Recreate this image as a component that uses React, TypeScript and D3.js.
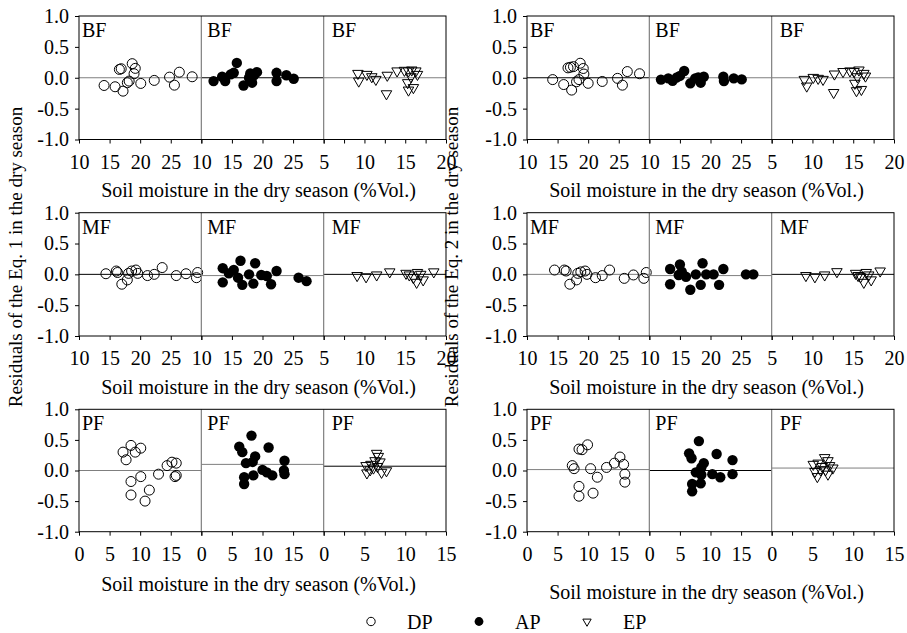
import { useEffect, useRef } from 'react'
import * as d3 from 'd3'

type Pt = [number, number]

const groups = ['DP', 'AP', 'EP']
const forests = ['BF', 'MF', 'PF']
const yTicks = [-1, -0.5, 0, 0.5, 1]

// x domains / tick labels per sub-panel (DP, AP, EP)
const xDomainBFMF: Pt[] = [[10, 30], [10, 30], [5, 20]]
const xDomainPF: Pt[] = [[0, 20], [0, 20], [0, 15]]
const xTicksBFMF = [[10, 15, 20, 25, 30], [10, 15, 20, 25, 30], [5, 10, 15, 20]]
const xTicksPF = [[0, 5, 10, 15, 20], [0, 5, 10, 15, 20], [0, 5, 10, 15]]
const xMinorBFMF = [7.5, 12.5, 17.5]
const xMinorPF = [2.5, 7.5, 12.5]

// Eq. 1 residuals  [soil moisture, residual]
const eq1BF_DP: Pt[] = [[14.1, -0.125], [15.9, -0.146], [17.2, -0.217], [16.6, 0.135], [16.9, 0.146], [18.7, 0.228], [19.2, 0.152], [19.0, 0.065], [18.2, -0.054], [17.9, -0.08], [20.1, -0.092], [22.3, -0.043], [24.8, 0.01], [25.6, -0.12], [26.4, 0.09], [28.5, 0.016]]
const eq1BF_AP: Pt[] = [[12.0, -0.054], [13.4, 0.016], [13.9, -0.054], [14.8, 0.054], [15.8, 0.24], [15.3, 0.08], [16.9, -0.125], [17.8, 0], [18.0, 0.07], [18.3, -0.08], [18.6, 0.04], [19.1, 0.09], [22.3, 0.08], [22.3, -0.054], [23.9, 0.04], [25.1, -0.016]]
const eq1BF_EP: Pt[] = [[9.2, 0.07], [9.3, -0.054], [10.3, 0.054], [10.9, 0.016], [11.4, -0.027], [12.8, 0.04], [12.7, -0.26], [14.0, 0.11], [14.9, 0.12], [15.4, 0.11], [15.8, 0.125], [15.7, 0.016], [16.3, 0.11], [15.3, -0.08], [15.4, -0.2], [16.0, -0.16], [16.5, 0.054]]
const eq1MF_DP: Pt[] = [[14.4, 0.01], [16.1, 0.054], [16.3, 0.03], [17.0, -0.16], [17.9, -0.09], [18.1, 0.016], [18.6, 0.054], [19.3, 0.07], [19.6, 0.016], [21.2, -0.02], [22.3, 0], [23.6, 0.11], [25.9, -0.02], [27.5, 0.01], [29.4, 0.03], [29.2, -0.054]]
const eq1MF_AP: Pt[] = [[13.5, 0.1], [13.5, -0.13], [14.5, 0.016], [15.3, 0.07], [16.4, 0.22], [16.0, -0.054], [16.7, -0.17], [17.8, 0], [18.5, -0.15], [18.8, 0.18], [19.8, -0.01], [20.7, -0.027], [21.4, -0.16], [22.3, 0.054], [25.9, -0.054], [27.2, -0.11]]
const eq1MF_EP: Pt[] = [[9.1, -0.02], [10.2, -0.04], [11.5, -0.01], [13.1, 0.04], [15.1, 0.016], [15.5, -0.01], [16.0, -0.054], [16.5, 0.03], [16.9, 0], [16.4, -0.13], [17.2, -0.09], [18.5, 0.04]]
const eq1PF_DP: Pt[] = [[7.2, 0.3], [7.7, 0.175], [8.5, 0.41], [9.2, 0.3], [10.1, 0.365], [8.5, -0.18], [10.1, -0.1], [11.5, -0.32], [8.5, -0.4], [10.8, -0.5], [13.0, -0.06], [14.4, 0.08], [15.2, 0.136], [15.9, 0.12], [15.9, -0.08], [15.7, -0.1]]
const eq1PF_AP: Pt[] = [[6.2, 0.39], [6.7, 0.3], [8.2, 0.57], [11.0, 0.375], [8.8, 0.23], [8.4, 0.14], [7.3, 0.12], [13.6, 0.16], [13.6, -0.06], [13.5, 0.0], [7.0, -0.11], [7.0, -0.22], [8.5, -0.08], [10.0, 0.01], [10.7, -0.03], [11.6, -0.08]]
const eq1PF_EP: Pt[] = [[5.2, 0.08], [5.8, 0.1], [6.3, 0.16], [6.7, 0.23], [6.5, 0.28], [6.9, 0.14], [6.1, 0.04], [5.3, -0.04], [7.1, -0.03], [7.7, -0.005], [5.7, 0.01], [6.6, 0.065]]

// Eq. 2 residuals
const eq2BF_DP: Pt[] = [[14.2, -0.03], [16.0, -0.11], [17.3, -0.2], [16.7, 0.16], [17.1, 0.17], [17.6, 0.18], [18.7, 0.235], [19.2, 0.15], [18.1, -0.065], [18.5, -0.03], [19.3, 0.06], [20.0, -0.09], [22.3, -0.06], [24.8, -0.01], [25.6, -0.12], [26.4, 0.1], [28.4, 0.065]]
const eq2BF_AP: Pt[] = [[11.9, -0.03], [13.1, -0.01], [13.8, -0.05], [14.5, 0.005], [15.7, 0.11], [15.0, 0.03], [16.7, -0.09], [17.5, -0.01], [18.0, 0.005], [18.4, -0.08], [18.9, 0.016], [22.1, 0.016], [22.2, -0.054], [23.8, -0.01], [25.1, -0.027]]
const eq2BF_EP: Pt[] = [[9.0, -0.027], [9.3, -0.135], [10.1, 0.005], [10.7, -0.01], [11.3, -0.027], [12.7, 0.06], [12.6, -0.24], [13.75, 0.1], [14.6, 0.11], [15.1, 0.1], [15.7, 0.125], [15.5, 0.016], [16.3, 0.07], [15.2, -0.09], [15.4, -0.21], [16.0, -0.19], [16.5, 0.027]]
const eq2MF_DP: Pt[] = [[14.5, 0.07], [16.1, 0.07], [16.4, 0.054], [17.0, -0.16], [18.1, -0.09], [18.3, 0.016], [18.8, 0.04], [19.5, 0.054], [19.8, 0], [21.2, -0.054], [22.3, -0.02], [23.5, 0.07], [25.9, -0.065], [27.4, -0.01], [29.5, 0.03], [29.1, -0.065]]
const eq2MF_AP: Pt[] = [[13.4, 0.086], [13.4, -0.16], [14.8, -0.01], [15.0, 0.16], [15.3, 0.043], [16.0, -0.04], [16.7, -0.25], [17.6, 0], [18.4, -0.17], [18.7, 0.18], [19.3, 0], [20.5, 0], [21.4, -0.17], [22.1, 0.086], [25.8, 0], [27.0, 0]]
const eq2MF_EP: Pt[] = [[9.2, -0.02], [10.3, -0.04], [11.5, -0.01], [13.0, 0.043], [15.3, 0.016], [15.6, -0.02], [15.9, -0.04], [16.6, 0.03], [16.9, -0.01], [16.3, -0.13], [17.2, -0.09], [18.3, 0.054]]
const eq2PF_DP: Pt[] = [[8.5, 0.35], [9.0, 0.34], [9.9, 0.42], [7.4, 0.08], [7.7, 0.03], [10.4, 0.03], [11.5, -0.11], [13.0, 0.05], [14.3, 0.12], [15.2, 0.22], [15.8, 0.1], [16.0, -0.06], [16.0, -0.19], [8.5, -0.26], [10.8, -0.37], [8.5, -0.42]]
const eq2PF_AP: Pt[] = [[8.1, 0.48], [6.5, 0.28], [6.9, 0.2], [11.0, 0.27], [13.6, 0.17], [8.9, 0.12], [8.5, 0.05], [13.6, -0.06], [10.3, -0.06], [11.6, -0.11], [8.5, -0.07], [8.4, -0.21], [7.0, -0.22], [7.0, -0.34], [7.6, -0.03]]
const eq2PF_EP: Pt[] = [[5.1, 0.1], [5.7, 0.12], [6.5, 0.21], [6.9, 0.16], [6.2, 0.065], [5.3, -0.016], [5.6, -0.1], [6.9, -0.06], [7.5, 0.04], [7.1, 0.08], [6.0, 0.01], [6.6, 0.01]]

// mean residual lines per forest row, per group
const eq1Lines = [[0, 0, 0], [0, -0.02, 0], [0, 0.1, 0.07]]
const eq2Lines = [[0, 0, 0], [0, -0.02, 0], [0.015, 0, 0.04]]

const GREY = '#7f7f7f'
const eq1Tones = [[GREY, '#000', GREY], ['#000', GREY, '#000'], [GREY, GREY, '#000']]
const eq2Tones = [['#000', GREY, GREY], [GREY, GREY, '#000'], [GREY, '#000', GREY]]

const FONT = '"Liberation Serif", "Times New Roman", serif'
const xTitle = 'Soil moisture in the dry season (%Vol.)'

export default function App() {
  const ref = useRef<SVGSVGElement>(null)

  useEffect(() => {
    if (!ref.current) return
    const svg = d3.select(ref.current)
    svg.selectAll('*').remove()

    const panels = [
      { x0: 79, x1: 446, title: 'Residuals of the Eq. 1 in the dry season', tX: 22,
        sets: [[eq1BF_DP, eq1BF_AP, eq1BF_EP], [eq1MF_DP, eq1MF_AP, eq1MF_EP], [eq1PF_DP, eq1PF_AP, eq1PF_EP]],
        lines: eq1Lines, tones: eq1Tones, xtY: [197, 394, 591] },
      { x0: 527, x1: 894, title: 'Residuals of the Eq. 2 in the dry season', tX: 458,
        sets: [[eq2BF_DP, eq2BF_AP, eq2BF_EP], [eq2MF_DP, eq2MF_AP, eq2MF_EP], [eq2PF_DP, eq2PF_AP, eq2PF_EP]],
        lines: eq2Lines, tones: eq2Tones, xtY: [197, 394, 599] },
    ]
    const bands = [[16, 139.5], [212.7, 336], [409.3, 531.7]]
    const labelDx = [3, 6, 8]

    const tri = d3.symbol(d3.symbolTriangle, 48)
    const triSmall = d3.symbol(d3.symbolTriangle, 30)

    const styleAxis = (g: d3.Selection<SVGGElement, unknown, null, undefined>) => {
      g.attr('font-family', FONT).attr('font-size', 20)
      g.selectAll('text').attr('fill', '#000')
      g.selectAll('line').attr('stroke', '#000')
    }

    panels.forEach(p => {
      const w = (p.x1 - p.x0) / 3
      bands.forEach(([top, bottom], r) => {
        const y = d3.scaleLinear().domain([-1, 1]).range([bottom, top])
        const root = svg.append('g')

        for (let gi = 0; gi < 3; gi++) {
          const sx0 = p.x0 + gi * w
          const dom = r < 2 ? xDomainBFMF[gi] : xDomainPF[gi]
          const ticks = r < 2 ? xTicksBFMF[gi] : xTicksPF[gi]
          const x = d3.scaleLinear().domain(dom).range([sx0, sx0 + w])
          const last = gi === 2

          // reference line
          root.append('line')
            .attr('x1', sx0).attr('x2', sx0 + w)
            .attr('y1', y(p.lines[r][gi])).attr('y2', y(p.lines[r][gi]))
            .attr('stroke', p.tones[r][gi]).attr('stroke-width', 1)

          // bottom axis
          const minor = last ? (r < 2 ? xMinorBFMF : xMinorPF) : []
          root.append('g')
            .attr('transform', `translate(0,${bottom})`)
            .call(d3.axisBottom(x)
              .tickValues([...ticks, ...minor])
              .tickSizeInner(4).tickSizeOuter(0).tickPadding(11)
              .tickFormat(d => {
                const v = +d
                if (!ticks.includes(v)) return ''
                if (!last && v === dom[1]) return ''
                return String(v)
              }))
            .call(g => { g.select('.domain').remove(); styleAxis(g) })

          // points
          const pts = p.sets[r][gi]
          const layer = root.append('g')
          if (gi === 0) {
            layer.selectAll('circle').data(pts).join('circle')
              .attr('cx', d => x(d[0])).attr('cy', d => y(d[1])).attr('r', 5)
              .attr('fill', 'none').attr('stroke', '#000').attr('stroke-width', 1)
          } else if (gi === 1) {
            layer.selectAll('circle').data(pts).join('circle')
              .attr('cx', d => x(d[0])).attr('cy', d => y(d[1])).attr('r', 5.2)
              .attr('fill', '#000')
          } else {
            layer.selectAll('path').data(pts).join('path')
              .attr('d', tri()!)
              .attr('transform', d => `translate(${x(d[0])},${y(d[1])}) rotate(180)`)
              .attr('fill', 'none').attr('stroke', '#000').attr('stroke-width', 1)
          }

          // forest label
          root.append('text')
            .attr('x', sx0 + labelDx[gi]).attr('y', top + 21)
            .attr('font-family', FONT).attr('font-size', 20)
            .text(forests[r])

          if (gi > 0) {
            root.append('line')
              .attr('x1', sx0).attr('x2', sx0).attr('y1', top).attr('y2', bottom)
              .attr('stroke', GREY).attr('stroke-width', 1.2)
          }
        }

        // frame
        root.append('rect')
          .attr('x', p.x0).attr('y', top).attr('width', p.x1 - p.x0).attr('height', bottom - top)
          .attr('fill', 'none').attr('stroke', '#000').attr('stroke-width', 1)

        // y axis
        root.append('g')
          .attr('transform', `translate(${p.x0},0)`)
          .call(d3.axisLeft(y).tickValues(yTicks).tickSizeInner(4).tickSizeOuter(0).tickPadding(6)
            .tickFormat(d => (+d).toFixed(1)))
          .call(g => { g.select('.domain').remove(); styleAxis(g) })

        // x title
        root.append('text')
          .attr('x', (p.x0 + p.x1) / 2 - 4).attr('y', p.xtY[r])
          .attr('text-anchor', 'middle')
          .attr('font-family', FONT).attr('font-size', 20)
          .text(xTitle)
      })

      svg.append('text')
        .attr('transform', `translate(${p.tX},257) rotate(-90)`)
        .attr('text-anchor', 'middle')
        .attr('font-family', FONT).attr('font-size', 19)
        .text(p.title)
    })

    // legend
    const lg = svg.append('g').attr('font-family', FONT).attr('font-size', 20)
    const legendX = d3.scalePoint().domain(groups).range([371, 587])
    groups.forEach((name, i) => {
      const cx = legendX(name)!
      if (i === 0) {
        lg.append('circle').attr('cx', cx).attr('cy', 621.5).attr('r', 4.2)
          .attr('fill', 'none').attr('stroke', '#000')
      } else if (i === 1) {
        lg.append('circle').attr('cx', cx).attr('cy', 621.5).attr('r', 4.4).attr('fill', '#000')
      } else {
        lg.append('path').attr('d', triSmall()!)
          .attr('transform', `translate(${cx},621.5) rotate(180)`)
          .attr('fill', 'none').attr('stroke', '#000')
      }
      lg.append('text').attr('x', cx + 36).attr('y', 629).text(name)
    })
  }, [])

  return (
    <svg
      ref={ref}
      width={907}
      height={633}
      style={{ position: 'absolute', left: 0, top: 0, background: '#fff', display: 'block' }}
    />
  )
}
